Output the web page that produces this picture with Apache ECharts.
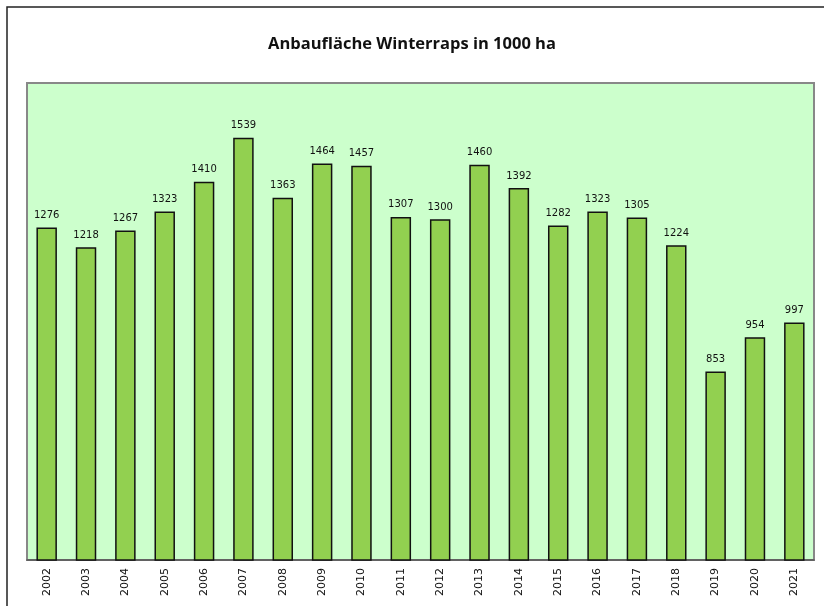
<!DOCTYPE html>
<html>
<head>
    <meta charset="utf-8">
    <title>Anbaufläche Winterraps</title>
    <script src="https://cdn.jsdelivr.net/npm/echarts@6.0.0/dist/echarts.min.js"></script>
    <style>
        html, body { margin: 0; padding: 0; background: #fff; }
        #main { width: 824px; height: 606px; }
    </style>
</head>
<body>
<div id="main"></div>
<script>
    // Jahre und Anbaufläche (1000 ha)
    var years = ['2002', '2003', '2004', '2005', '2006', '2007', '2008', '2009', '2010', '2011',
                 '2012', '2013', '2014', '2015', '2016', '2017', '2018', '2019', '2020', '2021'];
    var area = [1276, 1218, 1267, 1323, 1410, 1539, 1363, 1464, 1457, 1307,
                1300, 1460, 1392, 1282, 1323, 1305, 1224, 853, 954, 997];

    var myChart = echarts.init(document.getElementById('main'));
    var option = {
        animation: false,
        title: {
            text: 'Anbaufläche Winterraps in 1000 ha',
            left: 'center',
            top: 31,
            textStyle: {
                fontFamily: 'Open Sans',
                fontSize: 16.5,
                fontWeight: 'bold',
                color: '#111'
            }
        },
        graphic: [
            {
                type: 'rect',
                shape: { x: 7, y: 7, width: 830, height: 620 },
                style: { fill: 'none', stroke: '#222', lineWidth: 1.5 },
                silent: true
            }
        ],
        grid: {
            left: 27,
            right: 10,
            top: 83,
            bottom: 46,
            show: true,
            backgroundColor: '#ccffcc',
            borderColor: '#888',
            borderWidth: 2
        },
        xAxis: {
            type: 'category',
            data: years,
            axisLine: { lineStyle: { color: '#555', width: 1.5 } },
            axisTick: { show: false },
            axisLabel: {
                rotate: 90,
                margin: 8,
                fontFamily: 'DejaVu Sans',
                fontSize: 11,
                color: '#111'
            }
        },
        yAxis: {
            type: 'value',
            min: 300,
            max: 1700,
            show: false,
            splitLine: { show: false }
        },
        series: [
            {
                type: 'bar',
                data: area,
                barWidth: '52%',
                itemStyle: {
                    color: '#92d050',
                    borderColor: '#111',
                    borderWidth: 1.5
                },
                label: {
                    show: true,
                    position: 'top',
                    distance: 7,
                    fontFamily: 'DejaVu Sans',
                    fontSize: 10,
                    color: '#111'
                }
            }
        ]
    };
    option && myChart.setOption(option);
</script>
</body>
</html>
